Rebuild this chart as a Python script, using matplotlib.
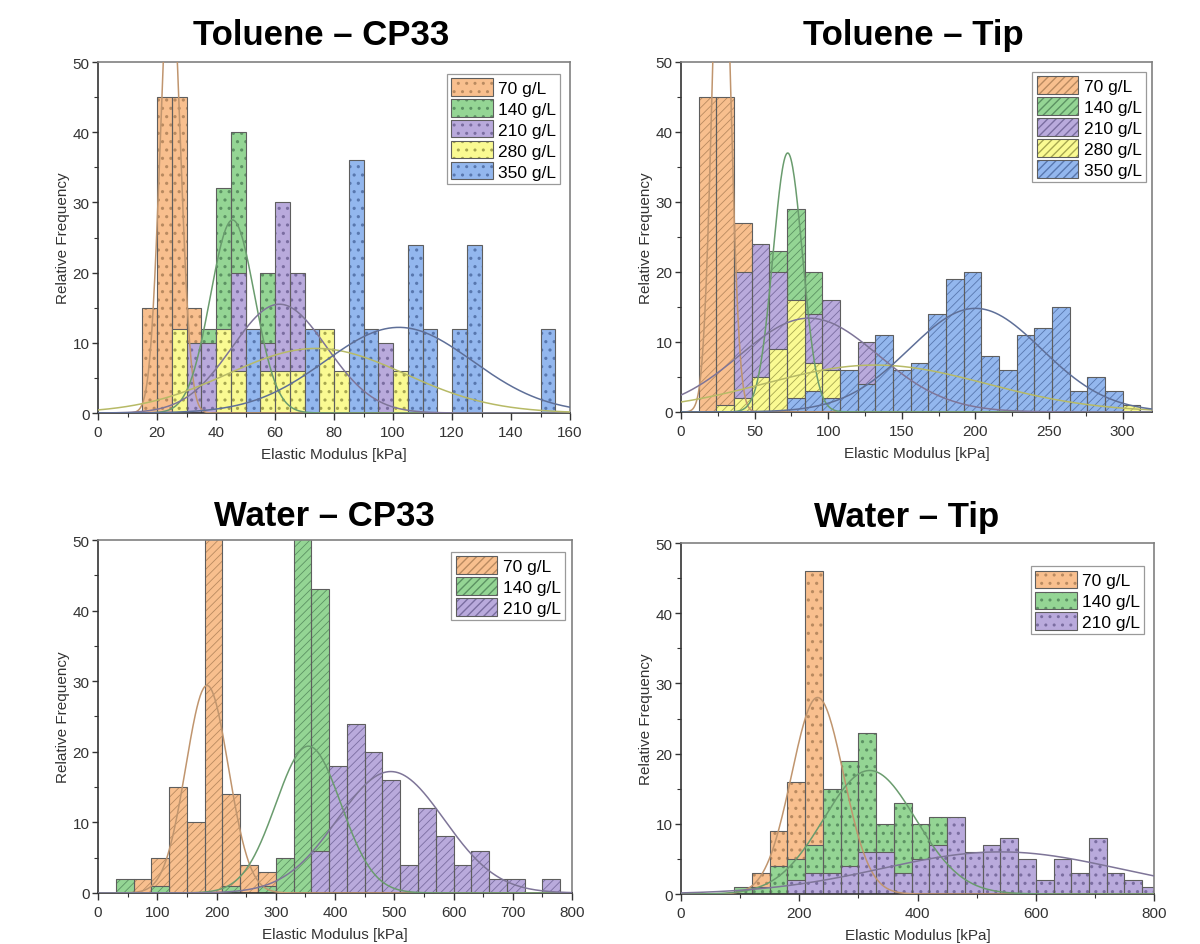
import numpy as np
import matplotlib
matplotlib.use('Agg')
import matplotlib.pyplot as plt
import matplotlib.patches as mpatches
from matplotlib.ticker import MultipleLocator

plt.rcParams['font.family'] = ['Liberation Sans', 'DejaVu Sans']

labels = ['70 g/L', '140 g/L', '210 g/L', '280 g/L', '350 g/L']
fill_colors = ['#F8BF8E', '#94D594', '#B9AADC', '#FAFA92', '#93B7EE']
hatch_colors = ['#B98A60', '#5C9263', '#7A6DA0', '#A6A650', '#5877AE']
curve_colors = ['#C0956E', '#6A9C6E', '#7E7598', '#B7BA66', '#5E6F98']
bar_edge = '#5E5E5E'

# Toluene - CP33, bins of 5 kPa (left edges)
tol_cp33_bins = [15, 20, 25, 30, 35, 40, 45, 50, 55, 60, 65, 70, 75, 80, 85, 90, 95,
                 100, 105, 110, 115, 120, 125, 130, 135, 140, 145, 150]
tol_cp33_70 = [15, 45, 45, 15, 0, 0, 0, 0, 0, 0, 0, 0, 0, 0, 0, 0, 0, 0, 0, 0, 0, 0, 0, 0, 0, 0, 0, 0]
tol_cp33_140 = [0, 0, 0, 0, 12, 32, 40, 8, 20, 0, 0, 0, 0, 0, 0, 0, 0, 0, 0, 0, 0, 0, 0, 0, 0, 0, 0, 0]
tol_cp33_210 = [0, 0, 0, 10, 10, 0, 20, 0, 10, 30, 20, 0, 0, 0, 0, 0, 10, 0, 0, 0, 0, 0, 0, 0, 0, 0, 0, 0]
tol_cp33_280 = [0, 0, 12, 0, 0, 12, 6, 0, 6, 6, 6, 0, 12, 6, 0, 0, 0, 6, 0, 0, 0, 0, 0, 0, 0, 0, 0, 0]
tol_cp33_350 = [0, 0, 0, 0, 0, 0, 0, 12, 0, 0, 0, 12, 0, 0, 36, 12, 0, 0, 24, 12, 0, 12, 24, 0, 0, 0, 0, 12]
# normal fits: mean, sd, peak height
tol_cp33_fit = [(24.5, 3.4, 64), (45.6, 7.5, 27.5), (61.5, 16, 15.5), (74, 30, 9.2), (102, 25, 12.2)]

# Toluene - Tip, bins of 12 kPa
tol_tip_bins = [12, 24, 36, 48, 60, 72, 84, 96, 108, 120, 132, 144, 156, 168, 180, 192, 204,
                216, 228, 240, 252, 264, 276, 288, 300]
tol_tip_70 = [45, 45, 27, 0, 0, 0, 0, 0, 0, 0, 0, 0, 0, 0, 0, 0, 0, 0, 0, 0, 0, 0, 0, 0, 0]
tol_tip_140 = [0, 0, 0, 0, 23, 29, 20, 3, 0, 0, 0, 0, 0, 0, 0, 0, 0, 0, 0, 0, 0, 0, 0, 0, 0]
tol_tip_210 = [0, 0, 20, 24, 20, 0, 14, 16, 0, 10, 0, 0, 0, 0, 0, 0, 0, 0, 0, 0, 0, 0, 0, 0, 0]
tol_tip_280 = [0, 1, 2, 5, 9, 16, 7, 6, 0, 0, 0, 0, 0, 0, 0, 0, 0, 0, 0, 0, 0, 0, 0, 0, 1]
tol_tip_350 = [0, 0, 0, 0, 0, 2, 3, 2, 6, 4, 11, 6, 7, 14, 19, 20, 8, 6, 11, 12, 15, 3, 5, 3, 0]
tol_tip_fit = [(27.4, 6.0, 80), (72.5, 10, 37), (87, 47, 13.4), (132, 75, 6.7), (200, 45, 14.8)]

# Water - CP33, bins of 30 kPa
water_cp33_bins = [30, 60, 90, 120, 150, 180, 210, 240, 270, 300, 330, 360, 390, 420, 450,
                   480, 510, 540, 570, 600, 630, 660, 690, 720, 750]
water_cp33_70 = [0, 2, 5, 15, 10, 55, 14, 4, 3, 0, 0, 0, 0, 0, 0, 0, 0, 0, 0, 0, 0, 0, 0, 0, 0]
water_cp33_140 = [2, 0, 1, 0, 0, 0, 1, 0, 1, 5, 55, 43, 0, 0, 0, 0, 0, 0, 0, 0, 0, 0, 0, 0, 0]
water_cp33_210 = [0, 0, 0, 0, 0, 0, 0, 0, 0, 0, 0, 6, 18, 24, 20, 16, 4, 12, 8, 4, 6, 2, 2, 0, 2]
water_cp33_fit = [(184, 36, 29.4), (355, 55, 20.8), (494, 90, 17.2)]

# Water - Tip, bins of 30 kPa
water_tip_bins = [90, 120, 150, 180, 210, 240, 270, 300, 330, 360, 390, 420, 450, 480, 510,
                  540, 570, 600, 630, 660, 690, 720, 750, 780]
water_tip_70 = [0, 3, 9, 16, 46, 0, 0, 0, 0, 0, 0, 0, 0, 0, 0, 0, 0, 0, 0, 0, 0, 0, 0, 0]
water_tip_140 = [1, 1, 4, 5, 7, 15, 19, 23, 10, 13, 10, 11, 0, 0, 0, 0, 0, 0, 0, 0, 0, 0, 0, 0]
water_tip_210 = [0, 0, 0, 2, 3, 3, 4, 6, 6, 3, 5, 7, 11, 6, 7, 8, 5, 2, 5, 3, 8, 3, 2, 1]
water_tip_fit = [(231, 44, 28), (319, 78, 17.6), (540, 200, 6.0)]


def draw_panel(ax, bins, width, series, hatch, hatch_lw, fits, xmax, xmajor, anchor):
    b = np.asarray(bins, dtype=float)
    handles = []
    with plt.rc_context({'hatch.linewidth': hatch_lw}):
        for k, heights in enumerate(series):
            h = np.asarray(heights, dtype=float)
            keep = h > 0
            ax.bar(b[keep], h[keep], width=width, align='edge', facecolor=fill_colors[k],
                   edgecolor=hatch_colors[k], linewidth=0, hatch=hatch, zorder=2)
            ax.bar(b[keep], h[keep], width=width, align='edge', fill=False,
                   edgecolor=bar_edge, linewidth=0.8, zorder=2)
            handles.append((mpatches.Patch(facecolor=fill_colors[k], edgecolor=hatch_colors[k],
                                           linewidth=0, hatch=hatch),
                            mpatches.Patch(fill=False, edgecolor=bar_edge, linewidth=0.8)))

    xs = np.linspace(0, xmax, 600)
    for k, (mu, sd, peak) in enumerate(fits):
        ax.plot(xs, peak * np.exp(-0.5 * ((xs - mu) / sd) ** 2),
                color=curve_colors[k], lw=1.1, zorder=3)

    ax.set_xlim(0, xmax)
    ax.set_ylim(0, 50)
    ax.xaxis.set_major_locator(MultipleLocator(xmajor))
    ax.xaxis.set_minor_locator(MultipleLocator(xmajor / 2))
    ax.yaxis.set_major_locator(MultipleLocator(10))
    ax.yaxis.set_minor_locator(MultipleLocator(5))
    ax.tick_params(which='both', direction='out', colors='#333333', labelsize=11,
                   top=False, right=False)
    ax.tick_params(which='major', length=5, width=1)
    ax.tick_params(which='minor', length=3, width=0.8)
    ax.tick_params(axis='y', which='major', length=4, pad=2)
    for side in ['left', 'bottom']:
        ax.spines[side].set_color('#333333')
        ax.spines[side].set_linewidth(1.2)
    for side in ['top', 'right']:
        ax.spines[side].set_color('#808080')
        ax.spines[side].set_linewidth(1.2)
    ax.set_xlabel('Elastic Modulus [kPa]', fontsize=11, color='#333333', labelpad=6)
    ax.set_ylabel('Relative Frequency', fontsize=11, color='#333333', labelpad=2)

    leg = ax.legend(handles, labels[:len(series)], loc='upper right', bbox_to_anchor=anchor,
                    fontsize=12.5, fancybox=False, framealpha=1, edgecolor='#9A9A9A',
                    handlelength=2.4, handleheight=1.15, labelspacing=0.2,
                    handletextpad=0.3, borderpad=0.25, borderaxespad=0)
    leg.get_frame().set_linewidth(0.9)
    leg.set_zorder(5)


fig = plt.figure(figsize=(12, 9.45), dpi=100)

ax1 = fig.add_axes([0.0817, 0.5619, 0.3933, 0.3714])
ax2 = fig.add_axes([0.5675, 0.5630, 0.3925, 0.3704])
ax3 = fig.add_axes([0.0817, 0.0540, 0.3950, 0.3735])
ax4 = fig.add_axes([0.5675, 0.0529, 0.3942, 0.3714])

draw_panel(ax1, tol_cp33_bins, 5,
           [tol_cp33_70, tol_cp33_140, tol_cp33_210, tol_cp33_280, tol_cp33_350],
           '..', 1.1, tol_cp33_fit, 160, 20, (0.979, 0.966))
draw_panel(ax2, tol_tip_bins, 12,
           [tol_tip_70, tol_tip_140, tol_tip_210, tol_tip_280, tol_tip_350],
           '////', 0.6, tol_tip_fit, 320, 50, (0.987, 0.971))
draw_panel(ax3, water_cp33_bins, 30,
           [water_cp33_70, water_cp33_140, water_cp33_210],
           '////', 0.6, water_cp33_fit, 800, 100, (0.985, 0.966))
draw_panel(ax4, water_tip_bins, 30,
           [water_tip_70, water_tip_140, water_tip_210],
           '..', 1.1, water_tip_fit, 800, 200, (0.979, 0.934))

titles = ['Toluene \u2013 CP33', 'Toluene \u2013 Tip', 'Water \u2013 CP33', 'Water \u2013 Tip']
title_pos = [(321, 45), (913, 45), (324, 526), (907, 527)]
for t, (px, py) in zip(titles, title_pos):
    fig.text(px / 1200, 1 - py / 945, t, ha='center', va='baseline',
             fontsize=25, fontweight='bold', color='black')

fig.savefig('out.png', dpi=100)
